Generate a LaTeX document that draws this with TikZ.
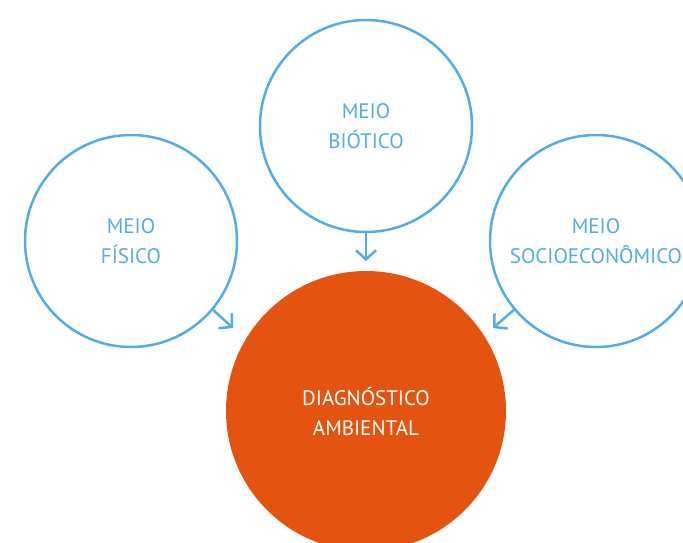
\documentclass[tikz,border=0pt]{standalone}
\usepackage{fontspec}
\setmainfont{PT Sans}
\usetikzlibrary{arrows.meta}
\definecolor{meioblue}{RGB}{84,173,226}
\definecolor{diagorange}{RGB}{228,83,16}
\begin{document}
\begin{tikzpicture}
[x=1pt,y=-1pt,
meio/.style={circle,draw=meioblue,line width=2.5pt,minimum size=212pt,
             text=meioblue,align=center,
             font=\fontsize{21}{30}\selectfont},
diag/.style={circle,fill=diagorange,minimum size=280pt,
             text=white,align=center,
             font=\fontsize{21}{30}\selectfont},
seta/.style={draw=meioblue,line width=2.5pt,
             -{Straight Barb[length=9pt,width=20pt,line width=2.5pt]}}]
\useasboundingbox (0,0) rectangle (683,542);
\clip (0,0) rectangle (683,542);
% meios
\node[meio] (bio) at (366,126) {MEIO\\BIÓTICO};
\node[meio] (fis) at (131,241) {MEIO\\FÍSICO};
\node[meio] (soc) at (596,241) {MEIO\\SOCIOECONÔMICO};
% diagnostico
\node[diag] (amb) at (366,411) {DIAGNÓSTICO\\AMBIENTAL};
\coordinate (biotip) at (366,261);
\coordinate (fistip) at (233,328);
\coordinate (soctip) at (493,328);
\draw[seta] (bio.south) -- (biotip);
\draw[seta] (fis.-40) -- (fistip);
\draw[seta] (soc.-140) -- (soctip);
\end{tikzpicture}
\end{document}
